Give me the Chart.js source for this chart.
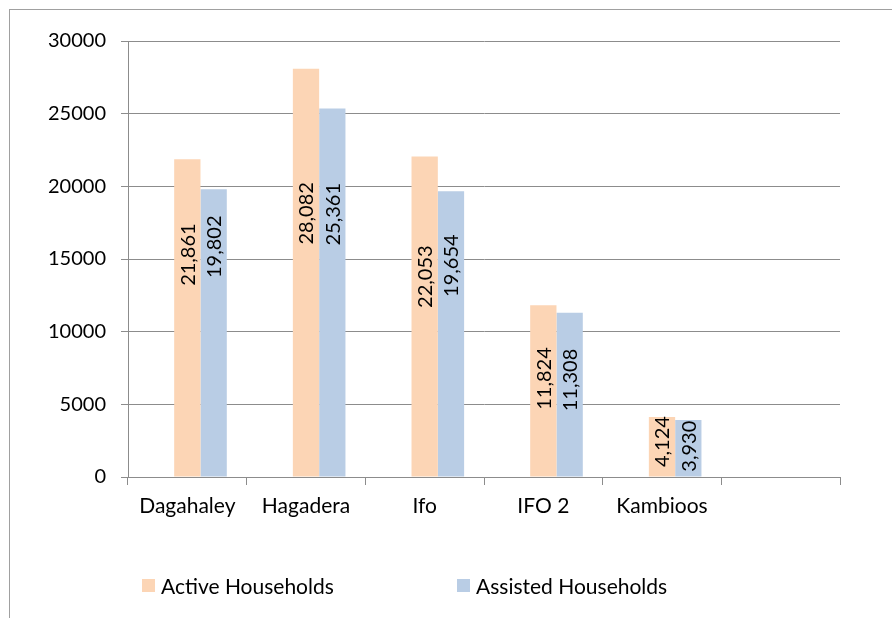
<!DOCTYPE html>
<html><head><meta charset="utf-8">
<script src="https://cdn.jsdelivr.net/npm/chart.js@4/dist/chart.umd.min.js"></script>
<style>
html,body{margin:0;padding:0;background:#fff;}
#wrap{position:relative;width:892px;height:618px;overflow:hidden;background:#fff;}
#frame{position:absolute;left:9px;top:9px;width:1000px;height:1000px;border-left:1px solid #a0a0a0;border-top:1px solid #a0a0a0;}
canvas{position:absolute;left:0;top:0;}
.leg{position:absolute;top:574px;height:22px;font:21px Lato, sans-serif;color:#000;display:flex;align-items:center;white-space:nowrap;}
.sw{width:13px;height:13px;margin-right:6px;}
</style></head>
<body>
<div id="wrap"><div id="frame"></div><canvas id="c" width="892" height="618"></canvas><div id="legend"></div></div>
<script>
// ---- data ----
const categories = ['Dagahaley', 'Hagadera', 'Ifo', 'IFO 2', 'Kambioos', ''];
const seriesNames = ['Active Households', 'Assisted Households'];
const activeHouseholds = [21861, 28082, 22053, 11824, 4124, null];
const assistedHouseholds = [19802, 25361, 19654, 11308, 3930, null];
const blankSeries = [null, null, null, null, null, null];
const yTicks = [0, 5000, 10000, 15000, 20000, 25000, 30000];

// ---- styles ----
const colors = ['#FCD5B5', '#B9CDE5'];
const axisColor = '#8c8c8c';
const FONT = 'Lato';

const labelPlugin = {
  id: 'vlabels',
  afterDatasetsDraw(chart, args, opts) {
    const ctx = chart.ctx;
    const ys = chart.scales.y;
    const base = ys.getPixelForValue(0);
    [1, 2].forEach((di, k) => {
      const meta = chart.getDatasetMeta(di);
      meta.data.forEach((bar, i) => {
        const v = chart.data.datasets[di].data[i];
        if (v == null) return;
        const frac = opts.fractions[k][i];
        const cy = base - (base - bar.y) * frac;
        ctx.save();
        ctx.translate(bar.x + 1, cy);
        ctx.rotate(-Math.PI / 2);
        ctx.font = '20px ' + FONT;
        ctx.fillStyle = '#000';
        ctx.textAlign = 'center';
        ctx.textBaseline = 'middle';
        ctx.fillText(v.toLocaleString('en-US'), 0, 0);
        ctx.restore();
      });
    });
  }
};

const chart = new Chart(document.getElementById('c'), {
  type: 'bar',
  data: {
    labels: categories,
    datasets: [
      { label: '', data: blankSeries, backgroundColor: 'rgba(0,0,0,0)' },
      { label: seriesNames[0], data: activeHouseholds, backgroundColor: colors[0] },
      { label: seriesNames[1], data: assistedHouseholds, backgroundColor: colors[1] }
    ]
  },
  options: {
    responsive: false,
    animation: false,
    devicePixelRatio: 1,
    layout: { padding: { left: 22, right: 52, top: 41, bottom: 98 } },
    datasets: { bar: { barPercentage: 1, categoryPercentage: 0.665, borderWidth: 0 } },
    plugins: {
      legend: { display: false },
      tooltip: { enabled: false },
      vlabels: {
        fractions: [
          [0.70, 0.646, 0.625, 0.573, 0.59],
          [0.80, 0.713, 0.74, 0.59, 0.54]
        ]
      }
    },
    scales: {
      x: {
        offset: true,
        grid: { offset: true, drawOnChartArea: false, drawTicks: true, tickLength: 8, color: axisColor, lineWidth: 1 },
        border: { display: true, color: axisColor, width: 1 },
        ticks: { color: '#000', font: { family: FONT, size: 21 }, padding: 9, maxRotation: 0, autoSkip: false },
        afterFit(scale) { scale.height = 43; }
      },
      y: {
        min: 0, max: 30000,
        afterBuildTicks(scale) { scale.ticks = yTicks.map(v => ({ value: v })); },
        grid: { drawTicks: true, tickLength: 7, color: axisColor, lineWidth: 1 },
        border: { display: true, color: axisColor, width: 1 },
        ticks: { color: '#000', font: { family: FONT, size: 20 }, padding: 15, callback: v => String(v) },
        afterFit(scale) { scale.width = 106; }
      }
    }
  },
  plugins: [labelPlugin]
});

// legend (HTML)
const legend = document.getElementById('legend');
const legLeft = [142, 457];
seriesNames.forEach((name, i) => {
  const d = document.createElement('div');
  d.className = 'leg';
  d.style.left = legLeft[i] + 'px';
  const sw = document.createElement('span');
  sw.className = 'sw';
  sw.style.background = colors[i];
  const t = document.createElement('span');
  t.textContent = name;
  d.appendChild(sw); d.appendChild(t);
  legend.appendChild(d);
});
</script>
</body></html>
